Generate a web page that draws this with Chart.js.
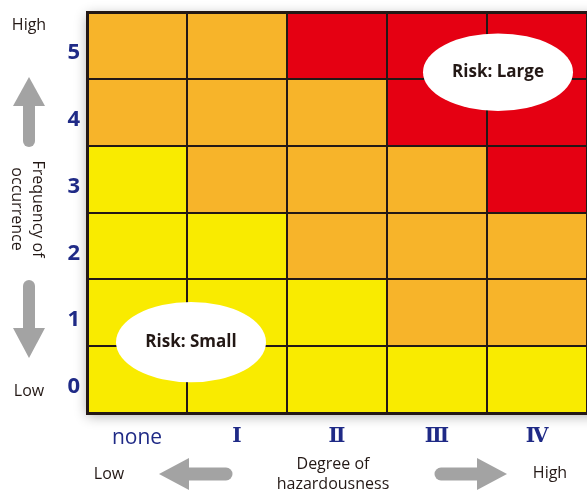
<!DOCTYPE html>
<html>
<head>
<meta charset="utf-8">
<script src="https://cdn.jsdelivr.net/npm/chart.js@4"></script>
<style>
  html, body { margin: 0; padding: 0; background: #ffffff; }
  #c { display: block; }
</style>
</head>
<body>
<canvas id="c" width="587" height="491"></canvas>
<script>
// ---- data ----
const categories = ['none', 'Ⅰ', 'Ⅱ', 'Ⅲ', 'Ⅳ'];          // degree of hazardousness
const rowLabels = ['0', '1', '2', '3', '4', '5'];            // frequency of occurrence
// risk level per cell (1 = small, 2 = medium, 3 = large), one array per frequency row
const risk0 = [1, 1, 1, 1, 1];
const risk1 = [1, 1, 1, 2, 2];
const risk2 = [1, 1, 2, 2, 2];
const risk3 = [1, 2, 2, 2, 3];
const risk4 = [2, 2, 2, 3, 3];
const risk5 = [2, 2, 3, 3, 3];
const riskRows = [risk0, risk1, risk2, risk3, risk4, risk5];
const riskNames = ['Risk: Small', 'Risk: Medium', 'Risk: Large'];

// ---- styles ----
const riskColors = ['#f9eb00', '#f7b42a', '#e50012'];
const lineColor = '#231815';
const tickBlue = '#1f2a86';
const textDark = '#231815';
const arrowGrey = '#a3a3a3';
const FONT = "'Open Sans', 'DejaVu Sans', sans-serif";

// labels placed in data coordinates (column index, row value)
const notes = [
  { text: riskNames[2], col: 3.61, row: 5.10, rCol: 0.75, rRow: 0.58 },
  { text: riskNames[0], col: 0.54, row: 1.06, rCol: 0.75, rRow: 0.60 }
];

const datasets = riskRows.map((levels, r) => ({
  label: rowLabels[r],
  data: categories.map(() => 1),
  backgroundColor: levels.map(l => riskColors[l - 1]),
  borderWidth: 0,
  barPercentage: 1,
  categoryPercentage: 1
}));

function arrow(ctx, x1, y1, x2, y2, headLen, headHalf, shaft) {
  const ang = Math.atan2(y2 - y1, x2 - x1);
  const bx = x2 - Math.cos(ang) * headLen;
  const by = y2 - Math.sin(ang) * headLen;
  ctx.save();
  ctx.strokeStyle = arrowGrey;
  ctx.fillStyle = arrowGrey;
  ctx.lineWidth = shaft;
  ctx.lineCap = 'round';
  ctx.beginPath();
  ctx.moveTo(x1, y1);
  ctx.lineTo(bx + Math.cos(ang) * 2, by + Math.sin(ang) * 2);
  ctx.stroke();
  ctx.lineCap = 'butt';
  const nx = -Math.sin(ang), ny = Math.cos(ang);
  ctx.beginPath();
  ctx.moveTo(x2, y2);
  ctx.lineTo(bx + nx * headHalf, by + ny * headHalf);
  ctx.lineTo(bx - nx * headHalf, by - ny * headHalf);
  ctx.closePath();
  ctx.fill();
  ctx.restore();
}

const decor = {
  id: 'decor',
  beforeDraw(chart) {
    const { ctx, chartArea: a } = chart;
    ctx.save();
    ctx.fillStyle = '#ffffff';
    ctx.fillRect(0, 0, chart.width, chart.height);
    ctx.shadowColor = 'rgba(0,0,0,0.32)';
    ctx.shadowBlur = 12;
    ctx.shadowOffsetY = 3;
    ctx.fillStyle = '#ffffff';
    ctx.fillRect(a.left, a.top, a.right - a.left + 20, a.bottom - a.top);
    ctx.restore();
  },
  afterDraw(chart) {
    const { ctx, chartArea: a, scales } = chart;
    const xs = scales.x, ys = scales.y;
    ctx.save();
    notes.forEach(n => {
      const cx = xs.getPixelForValue(n.col);
      const cy = ys.getPixelForValue(n.row);
      const rx = Math.abs(xs.getPixelForValue(n.col + n.rCol) - cx);
      const ry = Math.abs(ys.getPixelForValue(n.row + n.rRow) - cy);
      ctx.beginPath();
      ctx.ellipse(cx, cy, rx, ry, 0, 0, Math.PI * 2);
      ctx.fillStyle = '#ffffff';
      ctx.fill();
      ctx.fillStyle = textDark;
      ctx.font = "bold 17px " + FONT;
      ctx.textAlign = 'center';
      ctx.textBaseline = 'middle';
      ctx.fillText(n.text, cx, cy);
    });

    ctx.fillStyle = textDark;
    ctx.font = "16px " + FONT;
    ctx.textAlign = 'center';
    ctx.textBaseline = 'middle';
    const sx = a.left - 58;
    ctx.fillText('High', sx, a.top + 13);
    ctx.fillText('Low', sx, a.bottom - 22);

    ctx.save();
    ctx.translate(a.left - 60, 209);
    ctx.rotate(Math.PI / 2);
    ctx.fillText('Frequency of', 0, -10.5);
    ctx.fillText('occurrence', 0, 10.5);
    ctx.restore();

    const by = a.bottom + 61;
    ctx.fillText('Low', a.left + 22, by);
    ctx.fillText('High', a.right - 37, by - 1);
    const mid = (a.left + a.right) / 2 - 4;
    ctx.fillText('Degree of', mid, a.bottom + 51);
    ctx.fillText('hazardousness', mid, a.bottom + 71);

    arrow(ctx, sx, 141, sx, 77, 29, 16, 12);
    arrow(ctx, sx, 286, sx, 358, 30, 16, 12);
    arrow(ctx, a.left + 139, by, a.left + 72, by, 30, 16, 13);
    arrow(ctx, a.left + 354, by, a.left + 420, by, 30, 16, 13);
    ctx.restore();
  }
};

new Chart(document.getElementById('c'), {
  type: 'bar',
  data: { labels: categories, datasets },
  options: {
    responsive: false,
    animation: false,
    devicePixelRatio: 1,
    layout: { autoPadding: false, padding: { top: 12, left: 0, right: 0, bottom: 0 } },
    plugins: { legend: { display: false }, tooltip: { enabled: false } },
    scales: {
      x: {
        stacked: true,
        grid: { offset: true, color: lineColor, lineWidth: 2, drawTicks: false, z: 1 },
        border: { display: true, color: lineColor, width: 3, z: 1 },
        ticks: {
          padding: 12,
          color: tickBlue,
          font: (c) => c.index === 0
            ? { family: FONT, size: 21, weight: 'normal' }
            : { family: "'DejaVu Serif', 'Liberation Serif', serif", size: 20, weight: 'bold' }
        },
        afterFit: (s) => { s.height = 78; s.paddingLeft = 0; s.paddingRight = 0; }
      },
      y: {
        stacked: true,
        min: 0,
        max: rowLabels.length,
        grid: {
          color: lineColor,
          lineWidth: (c) => (c.tick && c.tick.value === rowLabels.length) ? 3 : 2,
          drawTicks: false,
          z: 1
        },
        border: { display: true, color: lineColor, width: 3, z: 1 },
        ticks: {
          stepSize: 1,
          padding: 7,
          labelOffset: -26,
          color: tickBlue,
          font: { family: FONT, size: 22, weight: 'bold' },
          callback: (v) => (rowLabels[v] !== undefined ? rowLabels[v] : '')
        },
        afterFit: (s) => { s.width = 87; s.paddingTop = 0; s.paddingBottom = 0; }
      }
    }
  },
  plugins: [decor]
});
</script>
</body>
</html>
